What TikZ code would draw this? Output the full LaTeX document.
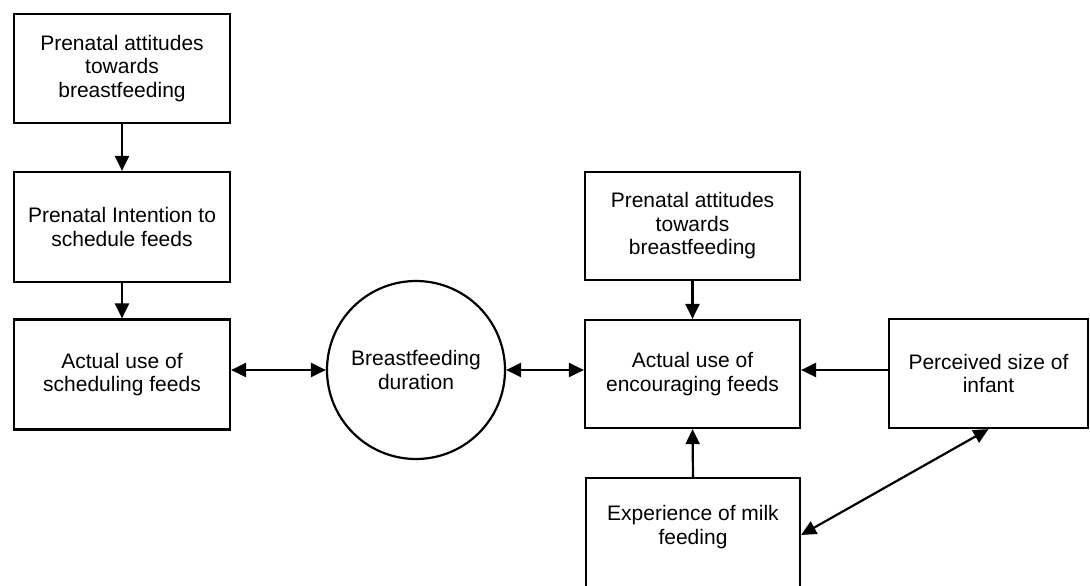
\documentclass[tikz,border=0pt]{standalone}
\usepackage{fontspec}
\setmainfont{Liberation Sans}
\usetikzlibrary{arrows.meta}
\begin{document}
\begin{tikzpicture}[x=1pt,y=-1pt,
  box/.style={draw, line width=2.2pt, inner sep=0pt, align=center,
    font=\fontsize{21}{23.5}\selectfont},
  conn/.style={line width=2.2pt, -{Triangle[length=15pt,width=14pt]}},
  dconn/.style={line width=2.2pt, {Triangle[length=15pt,width=14pt]}-{Triangle[length=15pt,width=14pt]}}]
\useasboundingbox (0,0) rectangle (1090,586);
\node[box, minimum width=216pt, minimum height=109pt] (b1) at (122,68.5) {Prenatal attitudes\\towards\\breastfeeding};
\node[box, minimum width=216pt, minimum height=110pt] (b2) at (122,227) {Prenatal Intention to\\schedule feeds};
\node[box, minimum width=216pt, minimum height=110pt] (b3) at (122,374.5) {Actual use of\\scheduling feeds};
\node[box, circle, minimum size=178pt] (circ) at (416,370) {Breastfeeding\\duration};
\node[box, minimum width=215pt, minimum height=108pt] (r1) at (692.5,226) {Prenatal attitudes\\towards\\breastfeeding};
\node[box, minimum width=215pt, minimum height=108pt] (r2) at (692.5,374) {Actual use of\\encouraging feeds};
\node[box, minimum width=199pt, minimum height=109pt] (per) at (988.5,373.5) {Perceived size of\\infant};
\node[box, minimum width=214pt, minimum height=124pt] (exp) at (693,540) {Experience of milk\\feeding\\\strut};
\draw[conn] (b1.south) -- (b2.north);
\draw[conn] (b2.south) -- (b3.north);
\draw[dconn] (circ.west -| b3.east) -- (circ.west);
\draw[dconn] (circ.east) -- (circ.east -| r2.west);
\draw[conn] (r1.south) -- (r2.north);
\draw[conn] (per.west |- circ.east) -- (r2.east |- circ.east);
\draw[conn] (exp.north) -- (r2.south);
\draw[dconn] ([yshift=5pt]exp.east) -- (per.south);
\end{tikzpicture}
\end{document}
